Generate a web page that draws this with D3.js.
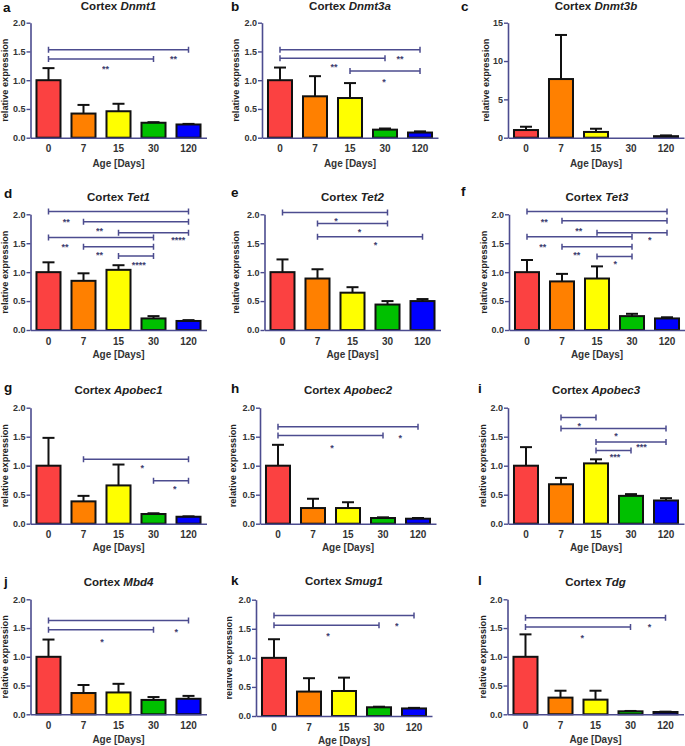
<!DOCTYPE html>
<html><head><meta charset="utf-8">
<script src="https://cdn.jsdelivr.net/npm/d3@7"></script>
<style>body{margin:0;background:#fff}</style>
</head><body>
<svg id="chart" width="685" height="746"></svg>
<script>
// ---------------- DATA ----------------
const categories = ["0", "7", "15", "30", "120"];
const letters = ["a","b","c","d","e","f","g","h","i","j","k","l"];
const genes = ["Dnmt1","Dnmt3a","Dnmt3b","Tet1","Tet2","Tet3","Apobec1","Apobec2","Apobec3","Mbd4","Smug1","Tdg"];
const yTicksStd = [0, 0.5, 1.0, 1.5, 2.0];
const yTicksDnmt3b = [0, 5, 10, 15];

// means and SEM (relative expression)
const meanDnmt1   = [1.0, 0.42, 0.46, 0.26, 0.23];
const semDnmt1    = [0.21, 0.15, 0.13, 0.01, 0.01];
const meanDnmt3a  = [1.0, 0.72, 0.69, 0.14, 0.09];
const semDnmt3a   = [0.22, 0.35, 0.26, 0.02, 0.02];
const meanDnmt3b  = [1.0, 7.65, 0.75, 0.0, 0.2];
const semDnmt3b   = [0.43, 5.75, 0.42, 0.0, 0.1];
const meanTet1    = [1.0, 0.85, 1.04, 0.20, 0.156];
const semTet1     = [0.17, 0.13, 0.08, 0.04, 0.015];
const meanTet2    = [1.0, 0.89, 0.645, 0.44, 0.50];
const semTet2     = [0.22, 0.16, 0.095, 0.06, 0.035];
const meanTet3    = [1.0, 0.84, 0.89, 0.24, 0.20];
const semTet3     = [0.21, 0.13, 0.21, 0.04, 0.02];
const meanApobec1 = [1.0, 0.385, 0.66, 0.167, 0.12];
const semApobec1  = [0.48, 0.095, 0.36, 0.013, 0.007];
const meanApobec2 = [1.0, 0.27, 0.27, 0.098, 0.086];
const semApobec2  = [0.36, 0.16, 0.10, 0.012, 0.012];
const meanApobec3 = [1.0, 0.68, 1.04, 0.48, 0.40];
const semApobec3  = [0.32, 0.11, 0.07, 0.03, 0.04];
const meanMbd4    = [1.0, 0.37, 0.38, 0.25, 0.27];
const semMbd4     = [0.30, 0.14, 0.15, 0.05, 0.05];
const meanSmug1   = [1.0, 0.42, 0.43, 0.15, 0.13];
const semSmug1    = [0.32, 0.23, 0.23, 0.01, 0.01];
const meanTdg     = [1.0, 0.29, 0.255, 0.052, 0.04];
const semTdg      = [0.39, 0.12, 0.155, 0.006, 0.006];

// significance brackets: [fromIdx, toIdx, yValue, label, labelIdx, labelValue]
const sigDnmt1   = [[0,4,1.53,"**",3.57,1.40],[0,3,1.37,"**",1.63,1.23]];
const sigDnmt3a  = [[0,4,1.53,"**",3.43,1.40],[0,3,1.38,"**",1.54,1.26],[2,4,1.16,"*",2.97,1.0]];
const sigDnmt3b  = [];
const sigTet1    = [[0,4,2.05,"**",0.51,1.91],[1,4,1.87,"**",1.46,1.75],[2,4,1.68,"****",3.71,1.60],
                    [0,3,1.60,"**",0.47,1.48],[1,3,1.44,"**",1.46,1.34],[2,3,1.28,"****",2.58,1.16]];
const sigTet2    = [[0,3,2.03,"*",1.53,1.93],[1,3,1.84,"*",2.2,1.73],[1,4,1.61,"*",2.66,1.51]];
const sigTet3    = [[0,4,2.05,"**",0.49,1.91],[1,4,1.89,"**",1.48,1.75],[2,4,1.68,"*",3.51,1.60],
                    [0,3,1.61,"**",0.45,1.48],[1,3,1.44,"**",1.42,1.34],[2,3,1.27,"*",2.52,1.18]];
const sigApobec1 = [[1,4,1.11,"*",2.68,1.0],[3,4,0.74,"*",3.61,0.64]];
const sigApobec2 = [[0,4,1.67,"*",3.49,1.52],[0,3,1.52,"*",1.54,1.34]];
const sigApobec3 = [[1,2,1.83,"*",1.52,1.72],[1,4,1.64,"*",2.57,1.55],[2,4,1.41,"***",3.3,1.36],[2,3,1.26,"***",2.54,1.18]];
const sigMbd4    = [[0,4,1.63,"*",3.65,1.47],[0,3,1.47,"*",1.53,1.30]];
const sigSmug1   = [[0,4,1.73,"*",3.51,1.58],[0,3,1.56,"*",1.54,1.41]];
const sigTdg     = [[0,4,1.68,"*",3.54,1.56],[0,3,1.52,"*",1.62,1.37]];

const allMeans = [meanDnmt1,meanDnmt3a,meanDnmt3b,meanTet1,meanTet2,meanTet3,meanApobec1,meanApobec2,meanApobec3,meanMbd4,meanSmug1,meanTdg];
const allSems  = [semDnmt1,semDnmt3a,semDnmt3b,semTet1,semTet2,semTet3,semApobec1,semApobec2,semApobec3,semMbd4,semSmug1,semTdg];
const allSigs  = [sigDnmt1,sigDnmt3a,sigDnmt3b,sigTet1,sigTet2,sigTet3,sigApobec1,sigApobec2,sigApobec3,sigMbd4,sigSmug1,sigTdg];

// ---------------- LAYOUT ----------------
const barColors = ["#fb4141", "#ff8000", "#ffff00", "#00c000", "#0000ff"];
const axisColor = "#4c4c8f";
const FONT = "'Liberation Sans', Arial, Helvetica, sans-serif";
const axX     = [30.5, 262, 508, 30.5, 264.5, 509, 30.5, 260, 508, 30.5, 256, 507.5];
const yTopPx  = [22.7, 22.7, 22.7, 214.3, 214.3, 214.3, 407.7, 407.7, 407.7, 599.3, 599.7, 599.3];
const yZeroPx = [137.7, 137.7, 137.7, 330, 330, 330, 523.7, 523.7, 523.7, 714.3, 716, 714.3];
const titleY  = [10, 10, 10, 201, 201, 201, 394, 394, 394, 586, 585, 586];
const letterX = [3, 231, 461, 4, 231, 461, 4, 231, 478, 4, 231, 478];
const letterY = [12, 11, 11, 198, 197, 196, 392, 393, 393, 586, 585, 585];
const ylabX   = [5, 236, 486, 5, 236, 484, 5, 233, 483, 5, 229, 483];
const ageOff  = [29, 29, 29, 28, 28, 28, 27.5, 27.5, 27.5, 28.5, 27.5, 28.5];

const svg = d3.select("#chart");
svg.append("defs").append("clipPath").attr("id", "clipK")
  .append("rect").attr("x", 227).attr("y", 560).attr("width", 20).attr("height", 186);

letters.forEach((letter, p) => {
  const g = svg.append("g");
  const L = axX[p];
  const x = d3.scaleBand().domain(categories).range([L, L + 176])
              .paddingInner(0.314).paddingOuter(0.171);
  const yMax = p === 2 ? 15 : 2;
  const y = d3.scaleLinear().domain([0, yMax]).range([yZeroPx[p], yTopPx[p]]);
  const ticks = p === 2 ? yTicksDnmt3b : yTicksStd;
  const means = allMeans[p], sems = allSems[p];
  const data = categories.map((c, i) => ({c, i, m: means[i], s: sems[i]}));

  // bars
  g.selectAll("rect.bar").data(data.filter(d => d.m > 0)).join("rect")
    .attr("x", d => x(d.c)).attr("width", x.bandwidth())
    .attr("y", d => y(d.m)).attr("height", d => y(0) - y(d.m))
    .attr("fill", d => barColors[d.i]).attr("stroke", "#111").attr("stroke-width", 2);

  // error bars (upper)
  const cx = d => x(d.c) + x.bandwidth() / 2;
  const eb = data.filter(d => d.s > 0);
  g.selectAll("line.ev").data(eb).join("line")
    .attr("x1", cx).attr("x2", cx).attr("y1", d => y(d.m)).attr("y2", d => y(d.m + d.s))
    .attr("stroke", "#111").attr("stroke-width", 2);
  g.selectAll("line.ec").data(eb).join("line")
    .attr("x1", d => cx(d) - 6).attr("x2", d => cx(d) + 6)
    .attr("y1", d => y(d.m + d.s)).attr("y2", d => y(d.m + d.s))
    .attr("stroke", "#111").attr("stroke-width", 2);

  // y axis
  const ya = g.append("g").attr("transform", `translate(${L},0)`)
    .call(d3.axisLeft(y).tickValues(ticks).tickSize(4).tickSizeOuter(0)
      .tickFormat(p === 2 ? d3.format("d") : d3.format(".1f")));
  ya.select(".domain").attr("stroke", axisColor).attr("stroke-width", 1.6);
  ya.selectAll(".tick line").attr("stroke", axisColor).attr("stroke-width", 1.4);
  ya.selectAll(".tick text").attr("fill", "#333").attr("font-family", FONT)
    .attr("font-size", 9).attr("font-weight", "bold").attr("x", -5);

  // x axis
  const xa = g.append("g").attr("transform", `translate(0,${yZeroPx[p]})`)
    .call(d3.axisBottom(x).tickSize(0).tickSizeOuter(0));
  xa.select(".domain").attr("stroke", axisColor).attr("stroke-width", 1.6);
  xa.selectAll(".tick text").attr("fill", "#333").attr("font-family", FONT)
    .attr("font-size", 10).attr("font-weight", "bold").attr("dy", null).attr("y", 14.5);

  // axis titles
  const midX = x(categories[2]) + x.bandwidth() / 2;
  g.append("text").attr("x", midX).attr("y", yZeroPx[p] + ageOff[p])
    .attr("text-anchor", "middle").attr("font-family", FONT).attr("font-size", 10)
    .attr("font-weight", "bold").attr("fill", "#333").text("Age [Days]");
  const midY = (yZeroPx[p] + yTopPx[p]) / 2;
  const yl = g.append("text").attr("transform", `translate(${ylabX[p]},${midY}) rotate(-90)`)
    .attr("text-anchor", "middle").attr("dominant-baseline", "central")
    .attr("font-family", FONT).attr("font-size", 9.2).attr("font-weight", "bold")
    .attr("fill", "#222").text("relative expression");
  if (p === 10) yl.attr("clip-path", null);
  if (p === 10) {
    yl.remove();
    svg.append("g").attr("clip-path", "url(#clipK)")
      .append("text").attr("transform", `translate(${ylabX[p]},${midY}) rotate(-90)`)
      .attr("text-anchor", "middle").attr("dominant-baseline", "central")
      .attr("font-family", FONT).attr("font-size", 9.2).attr("font-weight", "bold")
      .attr("fill", "#222").text("relative expression");
  }

  // title
  const t = g.append("text").attr("x", midX).attr("y", titleY[p]).attr("text-anchor", "middle")
    .attr("font-family", FONT).attr("font-size", 11.5).attr("font-weight", "bold").attr("fill", "#222");
  t.append("tspan").text("Cortex ");
  t.append("tspan").attr("font-style", "italic").text(genes[p]);

  // panel letter
  g.append("text").attr("x", letterX[p]).attr("y", letterY[p])
    .attr("font-family", FONT).attr("font-size", 13.5).attr("font-weight", "bold")
    .attr("fill", "#111").text(letter);

  // significance brackets
  const sig = allSigs[p];
  const idxX = v => x(categories[0]) + x.bandwidth() / 2 + v * x.step();
  sig.forEach(s => {
    const x1 = idxX(s[0]), x2 = idxX(s[1]), yy = y(s[2]);
    const path = d3.path();
    path.moveTo(x1, yy - 3); path.lineTo(x1, yy + 3);
    path.moveTo(x1, yy); path.lineTo(x2, yy);
    path.moveTo(x2, yy - 3); path.lineTo(x2, yy + 3);
    g.append("path").attr("d", path.toString()).attr("fill", "none")
      .attr("stroke", axisColor).attr("stroke-width", 1.5);
    g.append("text").attr("x", idxX(s[4])).attr("y", y(s[5]) + 5.2)
      .attr("text-anchor", "middle").attr("font-family", FONT).attr("font-size", 9)
      .attr("font-weight", "bold").attr("fill", "#3c3c6e").style("opacity", 0.99).text(s[3]);
  });
});
</script>
</body></html>
